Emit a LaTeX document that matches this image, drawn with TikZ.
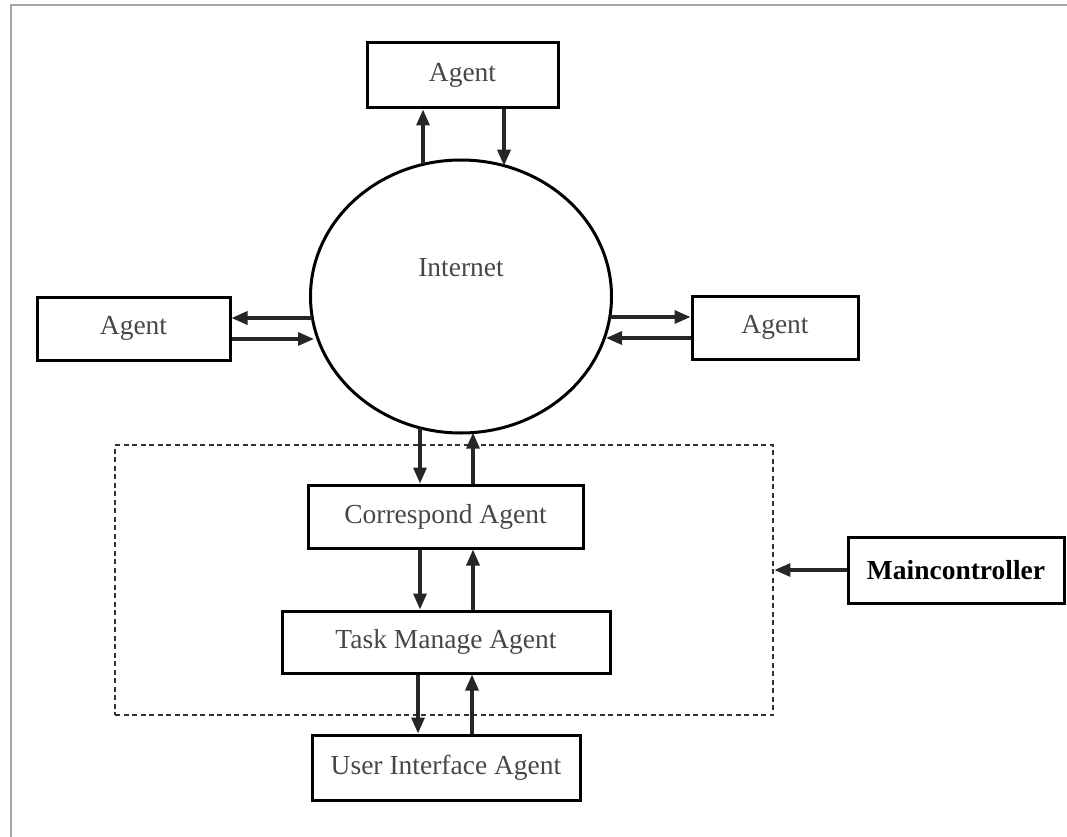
\documentclass[tikz,border=0pt]{standalone}
\usepackage{fontspec}
\setmainfont{Liberation Serif}
\usetikzlibrary{arrows.meta,shapes.geometric}
\tikzset{
  box/.style={draw=black, line width=3pt, rectangle, inner sep=0pt, font=\fontsize{27.5}{30}\selectfont, text=black!72},
  arr/.style={line width=3.2pt, draw=black!85, -{Triangle[length=16pt,width=13pt]}},
  dashbox/.style={draw=black!80, line width=2.8pt, dash pattern=on 5pt off 3.5pt, rectangle, inner sep=0pt},
  framel/.style={draw=black!35, line width=2.5pt}
}
\begin{document}
\begin{tikzpicture}[x=1pt,y=-1pt]
\useasboundingbox (0,0) rectangle (1067,837);
% frame
\coordinate (f0) at (11,5);
\coordinate (f1) at (1067,5);
\coordinate (f2) at (11,837);
\draw[framel] (f1) -- (f0) -- (f2);

% nodes
\node[draw=black, line width=3pt, ellipse, minimum width=301pt, minimum height=273pt, inner sep=0pt] (net) at (461,296.5) {};
\node[font=\fontsize{27.5}{30}\selectfont, text=black!72] (netlbl) at (461,268) {Internet};
\node[box, minimum width=191pt, minimum height=65pt] (atop) at (462.5,75.5) {Agent};
\node[box, minimum width=193pt, minimum height=63pt] (aleft) at (133.5,328.5) {Agent};
\node[box, minimum width=166pt, minimum height=63pt] (aright) at (775,327.5) {Agent};
\node[dashbox, minimum width=658pt, minimum height=270pt] (ctrl) at (444,580) {};
\node[box, minimum width=275pt, minimum height=63pt] (corr) at (445.5,516.5) {Correspond Agent};
\node[box, minimum width=328pt, minimum height=62pt] (task) at (446,642) {Task Manage Agent};
\node[box, minimum width=268pt, minimum height=65pt] (ui) at (446,767.5) {User Interface Agent};
\node[box, minimum width=216pt, minimum height=66pt, text=black, font=\fontsize{27.5}{30}\selectfont\bfseries] (main) at (956,570) {Maincontroller};

% points on the circle
\coordinate (c1) at (423,164.4);
\coordinate (c2) at (504,165.7);
\coordinate (c3) at (420,427.8);
\coordinate (c4) at (473,432.6);
\coordinate (c5) at (312.4,318);
\coordinate (c6) at (314,339);
\coordinate (c7) at (609.8,317);
\coordinate (c8) at (606,338);

% top agent
\draw[arr] (c1) -- (c1 |- atop.south);
\draw[arr] (c2 |- atop.south) -- (c2);
% left agent
\draw[arr] (c5) -- (c5 -| aleft.east);
\draw[arr] (c6 -| aleft.east) -- (c6);
% right agent
\draw[arr] (c7) -- (c7 -| aright.west);
\draw[arr] (c8 -| aright.west) -- (c8);
% circle <-> correspond
\draw[arr] (c3) -- (c3 |- corr.north);
\draw[arr] (c4 |- corr.north) -- (c4);
% correspond <-> task
\coordinate (x1) at (420,0);
\coordinate (x2) at (473,0);
\coordinate (x3) at (418,0);
\coordinate (x4) at (472,0);
\draw[arr] (x1 |- corr.south) -- (x1 |- task.north);
\draw[arr] (x2 |- task.north) -- (x2 |- corr.south);
% task <-> ui
\draw[arr] (x3 |- task.south) -- (x3 |- ui.north);
\draw[arr] (x4 |- ui.north) -- (x4 |- task.south);
% maincontroller
\draw[arr] (main.west) -- (main.west -| ctrl.east);
\end{tikzpicture}
\end{document}
